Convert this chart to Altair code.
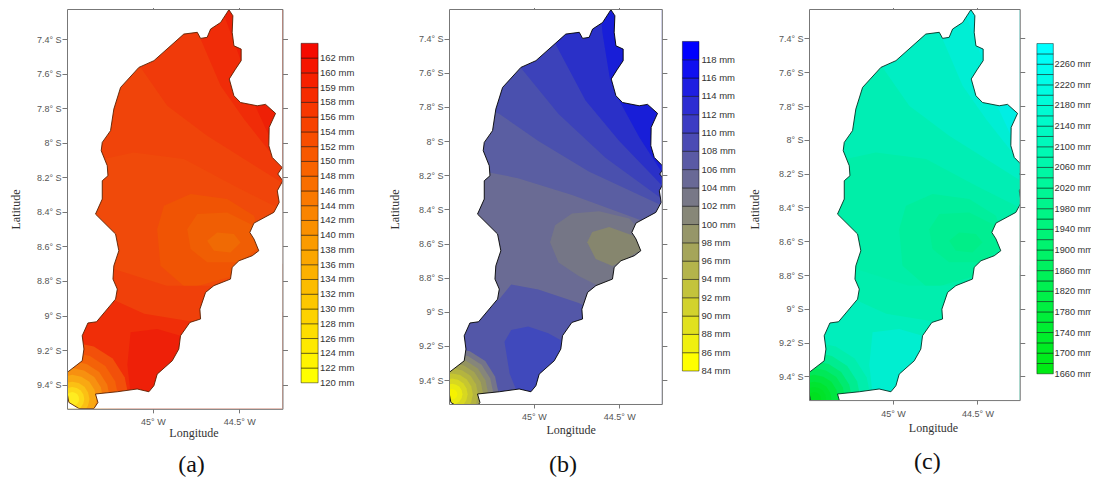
import altair as alt
import pandas as pd

# ---------- basin outline (longitude, latitude) ----------
BASIN_LON = [-44.560,-44.537,-44.541,-44.531,-44.489,-44.489,-44.522,-44.558,-44.531,-44.493,-44.396,-44.348,-44.290,-44.327,-44.329,-44.309,-44.252,-44.277,-44.248,-44.280,-44.269,-44.300,-44.415,-44.439,-44.415,-44.387,-44.425,-44.502,-44.541,-44.551,-44.647,-44.695,-44.728,-44.724,-44.786,-44.840,-44.850,-44.888,-44.975,-44.994,-45.023,-45.091,-45.206,-45.332,-45.318,-45.341,-45.428,-45.486,-45.497,-45.496,-45.409,-45.399,-45.409,-45.376,-45.326,-45.216,-45.206,-45.231,-45.226,-45.197,-45.216,-45.332,-45.293,-45.293,-45.260,-45.264,-45.299,-45.293,-45.245,-45.226,-45.187,-45.081,-44.994,-44.821,-44.743,-44.724,-44.686,-44.666,-44.608]
BASIN_LAT = [-7.230,-7.265,-7.361,-7.439,-7.458,-7.525,-7.574,-7.631,-7.728,-7.767,-7.786,-7.778,-7.830,-7.911,-8.017,-8.085,-8.143,-8.181,-8.220,-8.278,-8.345,-8.403,-8.465,-8.519,-8.557,-8.625,-8.654,-8.683,-8.721,-8.789,-8.827,-8.866,-8.963,-9.020,-9.040,-9.117,-9.194,-9.262,-9.339,-9.406,-9.441,-9.425,-9.441,-9.454,-9.503,-9.538,-9.538,-9.503,-9.445,-9.329,-9.262,-9.194,-9.117,-9.043,-9.036,-8.905,-8.847,-8.789,-8.712,-8.625,-8.528,-8.413,-8.326,-8.220,-8.191,-8.133,-8.046,-7.998,-7.930,-7.805,-7.680,-7.564,-7.525,-7.371,-7.361,-7.396,-7.390,-7.342,-7.304]

LON0, LON1 = -45.497, -44.25
LAT0, LAT1 = -9.54, -7.226
LON_TICKS = [-45.0, -44.5]
LAT_TICKS = [-7.4, -7.6, -7.8, -8.0, -8.2, -8.4, -8.6, -8.8, -9.0, -9.2, -9.4]

# ---------- contour regions ----------
NORTH = [(LON1, LAT1), (LON0, LAT1)]
# panel (a) / (c) contour lines
A1 = [(-45.5,-8.12),(-45.284,-8.094),(-45.11,-8.056),(-44.82,-8.094),(-44.53,-8.249),(-44.30,-8.365),(-44.25,-8.39)]
A2 = [(-45.3,-7.38),(-45.071,-7.564),(-44.917,-7.786),(-44.686,-7.959),(-44.271,-8.22),(-44.25,-8.24)]
A3 = [(-44.76,-7.3),(-44.724,-7.40),(-44.608,-7.67),(-44.473,-7.863),(-44.252,-8.143)]
A4 = [(-44.60,-7.23),(-44.50,-7.50),(-44.42,-7.76),(-44.30,-8.02),(-44.25,-8.10)]
A_S1 = [(-45.5,-8.72),(-45.226,-8.731),(-44.92,-8.827),(-44.65,-8.827),(-44.25,-8.70)]
A_S2 = [(-45.5,-8.88),(-45.216,-8.914),(-45.05,-8.99),(-44.74,-9.04),(-44.25,-8.98)]
A_BLOB = [(-45.129,-9.097),(-44.975,-9.078),(-44.840,-9.117),(-44.80,-9.213),(-44.90,-9.348),(-45.033,-9.464),(-45.129,-9.454),(-45.148,-9.285)]
A_LOBE1 = [(-44.975,-8.500),(-44.936,-8.365),(-44.782,-8.297),(-44.570,-8.326),(-44.415,-8.422),(-44.358,-8.615),(-44.531,-8.770),(-44.801,-8.847),(-44.956,-8.712)]
A_LOBE2 = [(-44.801,-8.500),(-44.743,-8.413),(-44.570,-8.403),(-44.415,-8.480),(-44.358,-8.577),(-44.493,-8.692),(-44.686,-8.692),(-44.782,-8.615)]
A_CORE = [(-44.686,-8.567),(-44.628,-8.519),(-44.531,-8.528),(-44.493,-8.577),(-44.551,-8.635),(-44.647,-8.625)]
# panel (b) contour lines
B1 = [(-45.5,-8.13),(-45.293,-8.166),(-45.098,-8.205),(-44.785,-8.302),(-44.414,-8.439),(-44.25,-8.50)]
B2 = [(-45.5,-7.70),(-45.205,-7.834),(-44.980,-7.990),(-44.688,-8.166),(-44.268,-8.361),(-44.25,-8.37)]
B3 = [(-45.2,-7.42),(-45.078,-7.570),(-44.863,-7.834),(-44.590,-8.088),(-44.268,-8.322),(-44.25,-8.33)]
B4 = [(-44.93,-7.33),(-44.873,-7.443),(-44.707,-7.755),(-44.512,-7.990),(-44.277,-8.234),(-44.25,-8.26)]
B5 = [(-44.62,-7.23),(-44.609,-7.365),(-44.566,-7.629),(-44.512,-7.755),(-44.395,-7.970),(-44.268,-8.166),(-44.25,-8.19)]
B_S = [(-45.5,-8.95),(-45.209,-8.908),(-45.137,-8.820),(-44.980,-8.849),(-44.746,-8.927),(-44.688,-8.957),(-44.25,-9.0)]
B_BLOB = [(-45.176,-9.152),(-45.137,-9.084),(-45.039,-9.064),(-44.922,-9.103),(-44.834,-9.152),(-44.834,-9.220),(-44.922,-9.337),(-44.980,-9.455),(-45.098,-9.455),(-45.146,-9.337)]
B_LOBE1 = [(-44.912,-8.576),(-44.883,-8.478),(-44.785,-8.410),(-44.629,-8.396),(-44.453,-8.439),(-44.336,-8.576),(-44.395,-8.732),(-44.629,-8.830),(-44.746,-8.771),(-44.863,-8.693)]
B_LOBE2 = [(-44.697,-8.576),(-44.668,-8.517),(-44.570,-8.488),(-44.434,-8.537),(-44.375,-8.615),(-44.473,-8.673),(-44.551,-8.713),(-44.648,-8.673)]

UNIT_RING = [(1,0),(.92,.38),(.71,.71),(.38,.92),(0,1),(-.38,.92),(-.71,.71),(-.92,.38),(-1,0),(-.92,-.38),(-.71,-.71),(-.38,-.92),(0,-1),(.38,-.92),(.71,-.71),(.92,-.38)]
def ring(cx, cy, r):
    return [(cx + r*u, cy + r*v) for u, v in UNIT_RING]
RING_CENTRE_A = (-45.467, -9.483)
RING_CENTRE_B = (-45.479, -9.455)
RADII_A = [.33,.27,.22,.18,.14,.10,.07,.04]
RADII_B = [.27,.24,.21,.18,.15,.12,.09,.06,.03]

FILLS_A = {"base":"#f04a0a","n1":"#f0440a","n2":"#f03a0a","n3":"#f02c08","n4":"#ee2006","s1":"#f0400a","s2":"#f02e08","blob":"#ee2008","l1":"#f05404","l2":"#f05e04","core":"#f06a04"}
RINGS_A = ["#f2500a","#f46208","#f5780c","#f79010","#f9a812","#fbc014","#fdd818","#ffec20"]
FILLS_C = {"base":"#00eea8","n1":"#00eeb4","n2":"#00eec4","n3":"#00eed4","n4":"#00eee4","s1":"#00eeae","s2":"#00eebc","blob":"#00eed0","l1":"#00ee9c","l2":"#00ee92","core":"#00ee88"}
RINGS_C = ["#00eeac","#00ec90","#00ea70","#00e858","#00e640","#00e430","#00e228","#00e020"]
FILLS_B = {"base":"#6a6b94","b1":"#5a5ea2","b2":"#4a50ae","b3":"#3c42ba","b4":"#2a30c8","b5":"#181ed8","s":"#5357a8","blob":"#4049bc","l1":"#757686","l2":"#86866e"}
RINGS_B = ["#74748a","#86867a","#949460","#a4a450","#b4b440","#c6c630","#d8d820","#eaea10","#f6f200"]

# ---------- colour-bar labels ----------
LABELS_A = ["120 mm","122 mm","124 mm","126 mm","128 mm","130 mm","132 mm","134 mm","136 mm","138 mm","140 mm","142 mm","144 mm","146 mm","148 mm","150 mm","152 mm","154 mm","156 mm","158 mm","159 mm","160 mm","162 mm"]
LABELS_B = ["84 mm","86 mm","88 mm","90 mm","92 mm","94 mm","96 mm","98 mm","100 mm","102 mm","104 mm","106 mm","108 mm","110 mm","112 mm","114 mm","116 mm","118 mm"]
LABELS_C = ["1660 mm","1700 mm","1740 mm","1780 mm","1820 mm","1860 mm","1900 mm","1940 mm","1980 mm","2020 mm","2060 mm","2100 mm","2140 mm","2180 mm","2220 mm","2260 mm"]
STOPS_A = [(255,255,0),(245,10,0)]
STOPS_B = [(255,255,0),(0,0,255)]
STOPS_C = [(0,235,20),(0,255,255)]

def feature(coords, fill="#000"):
    ring_ = list(coords)
    if ring_[0] != ring_[-1]:
        ring_ = ring_ + [ring_[0]]
    return {"type":"Feature","properties":{"fill":fill},"geometry":{"type":"Polygon","coordinates":[[list(p) for p in ring_]]}}

def north(line, fill):
    return feature(line + NORTH, fill)

def south(line, fill):
    return feature(line + [(LON1, LAT0), (LON0, LAT0)], fill)

frame_box = [(LON0-.001,LAT0-.001),(LON1+.001,LAT0-.001),(LON1+.001,LAT1+.001),(LON0-.001,LAT1+.001)]
basin = list(zip(BASIN_LON, BASIN_LAT))

def signed(r):
    return sum(r[i][0]*r[(i+1)%len(r)][1]-r[(i+1)%len(r)][0]*r[i][1] for i in range(len(r)))

hole = basin if signed(basin)*signed(frame_box) < 0 else list(reversed(basin))
mask_feature = {"type":"Feature","properties":{},"geometry":{"type":"Polygon","coordinates":[[list(p) for p in frame_box+[frame_box[0]]],[list(p) for p in hole+[hole[0]]]]}}
outline_feature = feature(basin)

def a_like(f, rings):
    out = [feature([(LON0,LAT0),(LON1,LAT0),(LON1,LAT1),(LON0,LAT1)], f["base"]),
           north(A1,f["n1"]), north(A2,f["n2"]), north(A3,f["n3"]), north(A4,f["n4"]),
           feature(A_LOBE1,f["l1"]), feature(A_LOBE2,f["l2"]), feature(A_CORE,f["core"]),
           south(A_S1,f["s1"]), south(A_S2,f["s2"]), feature(A_BLOB,f["blob"])]
    for r,c in zip(RADII_A, rings):
        out.append(feature(ring(*RING_CENTRE_A, r), c))
    return out

def b_like(f, rings):
    out = [feature([(LON0,LAT0),(LON1,LAT0),(LON1,LAT1),(LON0,LAT1)], f["base"]),
           north(B1,f["b1"]), north(B2,f["b2"]), north(B3,f["b3"]), north(B4,f["b4"]), north(B5,f["b5"]),
           feature(B_LOBE1,f["l1"]), feature(B_LOBE2,f["l2"]),
           south(B_S,f["s"]), feature(B_BLOB,f["blob"])]
    for r,c in zip(RADII_B, rings):
        out.append(feature(ring(*RING_CENTRE_B, r), c))
    return out

SANS = "Liberation Sans"
SERIF = "Liberation Serif"
GREY = "#777777"

def map_panel(bands, s, left, right, top, outline, lat_title, lon_title, caption):
    w = s*(LON1-LON0); h = s*(LAT1-LAT0)
    proj = dict(type="identity", reflectY=True, scale=s, translate=[-s*LON0, s*LAT1])
    xs = alt.Scale(domain=[LON0,LON1], nice=False, zero=False)
    ys = alt.Scale(domain=[LAT0,LAT1], nice=False, zero=False)
    ticks = pd.DataFrame({"lon":[LON_TICKS[0]]*len(LAT_TICKS), "lat":LAT_TICKS})
    fill_layer = alt.Chart(alt.Data(values=bands)).mark_geoshape(clip=True, strokeWidth=0).encode(
        fill=alt.Color("properties.fill:N", scale=None, legend=None)).project(**proj)
    mask_layer = alt.Chart(alt.Data(values=[mask_feature])).mark_geoshape(clip=True, fill="white", strokeWidth=0).project(**proj)
    line_layer = alt.Chart(alt.Data(values=[outline_feature])).mark_geoshape(filled=False, stroke=outline, strokeWidth=0.9, clip=True).project(**proj)
    ax = dict(grid=False, domainColor=GREY, tickColor=GREY, domainWidth=1, tickWidth=1, labelFont=SANS, labelFontSize=9, labelColor="#555555", titleFont=SERIF, titleFontSize=12, titleColor="#333333", titleFontWeight="normal")
    main = alt.Chart(ticks).mark_point(opacity=0).encode(
        x=alt.X("lon:Q", scale=xs, axis=alt.Axis(orient="bottom", values=LON_TICKS, labelExpr="abs(datum.value)+'° W'", title="Longitude", tickSize=4, labelPadding=5, titleX=lon_title[0], titleY=lon_title[1], titleBaseline="middle", labelFlush=False, zindex=2, **ax)),
        y=alt.Y("lat:Q", scale=ys, axis=alt.Axis(orient="left", values=LAT_TICKS, labelExpr="format(abs(datum.value),'.1~f')+'° S'", title="Latitude", tickSize=5, labelPadding=1, titleX=lat_title[0], titleY=lat_title[1], titleBaseline="middle", zindex=2, **ax)))
    other = alt.Chart(ticks).mark_point(opacity=0).encode(
        x=alt.X("lon:Q", scale=xs, axis=alt.Axis(orient="top", values=LON_TICKS, labels=False, title=None, tickSize=2, zindex=2, **ax)),
        y=alt.Y("lat:Q", scale=ys, axis=alt.Axis(orient="right", values=LAT_TICKS, labels=False, title=None, tickSize=5, zindex=2, **ax)))
    anchor = alt.Chart(pd.DataFrame({"a":[0]})).mark_rule(strokeOpacity=0).encode(
        x=alt.value(-left), x2=alt.value(w+right), y=alt.value(-top), y2=alt.value(-top))
    cap = alt.Chart(pd.DataFrame({"t":[caption[0]]})).mark_text(font=SERIF, fontSize=24, color="#111111", align="center", baseline="middle").encode(
        text="t:N", x=alt.value(caption[1]), y=alt.value(caption[2]))
    return alt.layer(fill_layer, mask_layer, line_layer, main, other, anchor, cap).resolve_axis(x="independent", y="independent").properties(width=w, height=h)

def bar_panel(labels, every, cells, stops, y0, step, box_w, bx0, bx1, lx, label_size):
    H = 420
    d0 = (y0-(8+H))/step
    d1 = (y0-8)/step
    ys = alt.Scale(domain=[d0,d1], nice=False, zero=False)
    rows = []
    for i in range(cells):
        t = i/(cells-1)
        rgb = [round(a+(b-a)*t) for a,b in zip(*stops)]
        rows.append({"lo":i,"hi":i+1,"c":"#%02x%02x%02x"%tuple(rgb)})
    rects = alt.Chart(pd.DataFrame(rows)).mark_rect(stroke="#000000", strokeOpacity=.45, strokeWidth=1).encode(
        x=alt.value(bx0), x2=alt.value(bx1),
        y=alt.Y("lo:Q", scale=ys, axis=None), y2="hi:Q",
        fill=alt.Color("c:N", scale=None, legend=None))
    texts = alt.Chart(pd.DataFrame({"lab":labels,"pos":[i*every for i in range(len(labels))]})).mark_text(
        font=SANS, fontSize=label_size, color="#333333", align="left", baseline="middle").encode(
        x=alt.value(lx), y=alt.Y("pos:Q", scale=ys, axis=None), text="lab:N")
    anchor = alt.Chart(pd.DataFrame({"a":[0]})).mark_rule(strokeOpacity=0).encode(
        x=alt.value(0), x2=alt.value(box_w), y=alt.value(0), y2=alt.value(0))
    return alt.layer(rects, texts, anchor).properties(width=box_w, height=H)

map_a = map_panel(a_like(FILLS_A,RINGS_A), 172.8, 58.5, 8, 2, "#5a2000", (-52,200), (126.5,24), ("(a)",124.5,456))
bar_a = bar_panel(LABELS_A, 1, 23, STOPS_A, 381.8, 14.76, 93.5, 10.1, 27.1, 29, 9.5)
map_b = map_panel(b_like(FILLS_B,RINGS_B), 170.7, 64, 8.3, 2, "#000000", (-55,200), (121.7,25.7), ("(b)",114,456))
bar_b = bar_panel(LABELS_B, 1, 18, STOPS_B, 370, 18.31, 73.2, 11.4, 28, 30.4, 9.5)
map_c = map_panel(a_like(FILLS_C,RINGS_C), 169, 63.7, 7.7, 5.3, "#003020", (-54.7,200), (124,27), ("(c)",118.3,452.7))
bar_c = bar_panel(LABELS_C, 2, 32, STOPS_C, 372.8, 10.32, 58, 8.9, 25.3, 26.6, 9.2)

chart = alt.hconcat(map_a, bar_a, map_b, bar_b, map_c, bar_c, spacing=0, padding={"left":0,"top":-5,"right":-2,"bottom":0}, background="white").configure_view(stroke=None)
chart.save("out.html", embed_options={"renderer": "svg", "actions": False})
